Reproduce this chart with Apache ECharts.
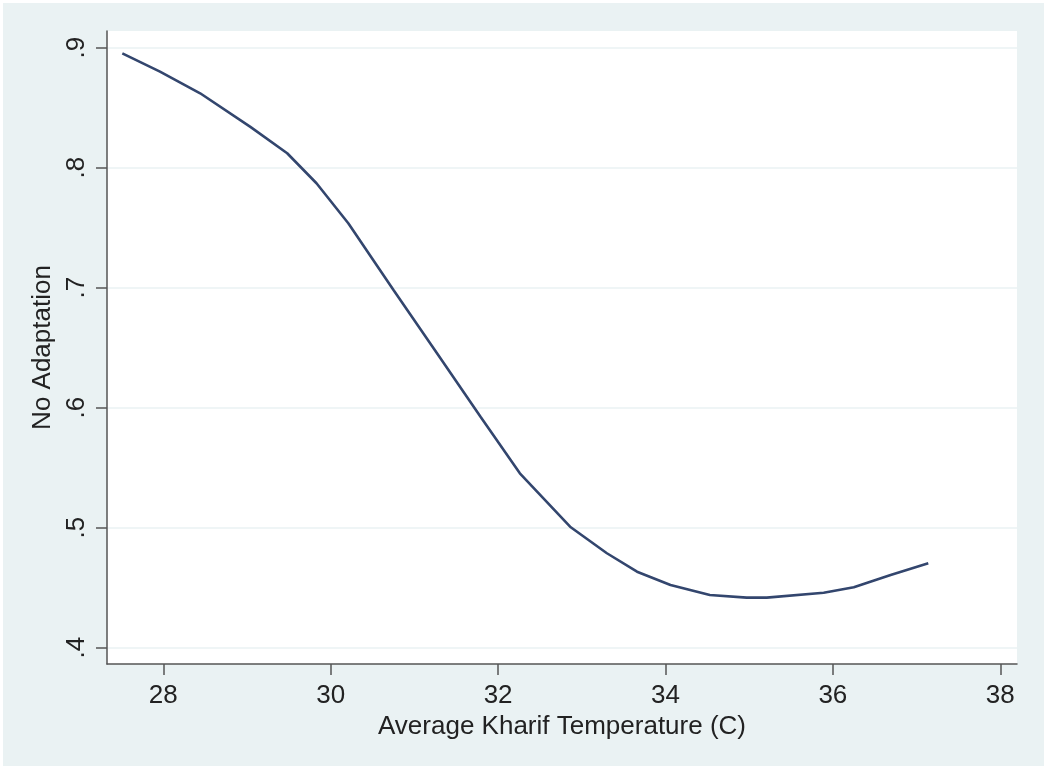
<!DOCTYPE html>
<html>
<head>
<meta charset="utf-8">
<script src="https://cdn.jsdelivr.net/npm/echarts@6/dist/echarts.min.js"></script>
<style>
    html, body {
        margin: 0;
        padding: 0;
        background: #ffffff;
    }
    #main {
        position: absolute;
        left: 3px;
        top: 3px;
        width: 1041px;
        height: 763px;
    }
</style>
</head>
<body>
<div id="main"></div>
<script>
// values
const temperature = [27.51, 27.96, 28.44, 29.04, 29.48, 29.83, 30.21, 30.75, 31.27, 31.79, 32.26, 32.86, 33.30, 33.66, 34.06, 34.53, 34.97, 35.21, 35.89, 36.25, 36.69, 37.14];
const noAdaptation = [0.8953, 0.880, 0.862, 0.834, 0.812, 0.787, 0.7537, 0.698, 0.6453, 0.5925, 0.5453, 0.5008, 0.4787, 0.4633, 0.4523, 0.4439, 0.4417, 0.4417, 0.4458, 0.4503, 0.4606, 0.4703];
const xTicks = [28, 30, 32, 34, 36, 38];
const yTicks = [0.4, 0.5, 0.6, 0.7, 0.8, 0.9];

const axisColor = '#555555';
const textColor = '#222222';
const font = '"Liberation Sans", Arial, sans-serif';

let option = {
    backgroundColor: '#eaf2f3',
    animation: false,
    textStyle: {
        fontFamily: font
    },
    grid: {
        left: 104,
        right: 27,
        top: 28,
        bottom: 102,
        show: true,
        backgroundColor: '#ffffff',
        borderWidth: 0
    },
    xAxis: {
        type: 'value',
        min: 27.327,
        max: 38.2,
        name: 'Average Kharif Temperature (C)',
        nameLocation: 'middle',
        nameGap: 44,
        nameTextStyle: {
            color: textColor,
            fontSize: 26,
            fontFamily: font
        },
        axisLine: {
            show: true,
            lineStyle: { color: axisColor, width: 1.5 }
        },
        axisTick: {
            show: true,
            length: 11,
            customValues: xTicks,
            lineStyle: { color: axisColor, width: 1.5 }
        },
        axisLabel: {
            customValues: xTicks,
            margin: 19,
            color: textColor,
            fontSize: 26,
            fontFamily: font
        },
        splitLine: { show: false }
    },
    yAxis: {
        type: 'value',
        min: 0.3864,
        max: 0.9139,
        name: 'No Adaptation',
        nameLocation: 'middle',
        nameGap: 47,
        nameRotate: 90,
        nameTextStyle: {
            color: textColor,
            fontSize: 26,
            fontFamily: font
        },
        axisLine: {
            show: true,
            lineStyle: { color: axisColor, width: 1.5 }
        },
        axisTick: {
            show: true,
            length: 11,
            customValues: yTicks,
            lineStyle: { color: axisColor, width: 1.5 }
        },
        axisLabel: {
            customValues: yTicks,
            rotate: 90,
            margin: 17,
            color: textColor,
            fontSize: 26,
            fontFamily: font,
            formatter: function (v) {
                return v.toFixed(1).replace(/^0/, '');
            }
        },
        splitLine: {
            show: true,
            lineStyle: { color: '#eaf2f3', width: 1.5 }
        }
    },
    series: [
        {
            type: 'line',
            data: temperature.map((t, i) => [t, noAdaptation[i]]),
            showSymbol: false,
            smooth: false,
            lineStyle: {
                color: '#33466e',
                width: 2.6
            }
        }
    ]
};

var myChart = echarts.init(document.getElementById('main'));
myChart.setOption(option);
</script>
</body>
</html>
